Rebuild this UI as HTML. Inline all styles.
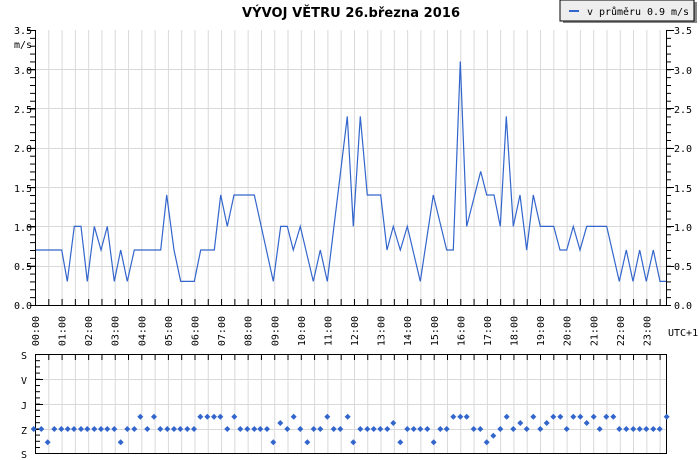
<!DOCTYPE html>
<html><head><meta charset="utf-8"><style>
body{margin:0;background:#fff;width:700px;height:460px;overflow:hidden}
svg{display:block}
text{font-family:"DejaVu Sans Mono","Liberation Mono",monospace;font-size:10px;fill:#000}
</style></head><body>
<svg width="700" height="460" viewBox="0 0 700 460" xmlns="http://www.w3.org/2000/svg">
<defs>
<pattern id="vg" x="35" y="0" width="13.29" height="10" patternUnits="userSpaceOnUse"><line x1="0.5" y1="0" x2="0.5" y2="10" stroke="#d9d9d9" stroke-width="1"/></pattern>
<pattern id="tk" x="35" y="0" width="13.29" height="10" patternUnits="userSpaceOnUse"><line x1="0.5" y1="0" x2="0.5" y2="10" stroke="#000" stroke-width="1"/></pattern>
<pattern id="ytk" x="0" y="30" width="10" height="7.857" patternUnits="userSpaceOnUse"><line x1="0" y1="0.5" x2="10" y2="0.5" stroke="#000"/></pattern>
<pattern id="ytk2" x="0" y="354" width="10" height="6.2" patternUnits="userSpaceOnUse"><line x1="0" y1="0.5" x2="10" y2="0.5" stroke="#000"/></pattern>
</defs>
<text x="242" y="17" textLength="218" style="font-family:'DejaVu Sans','Liberation Sans',sans-serif;font-weight:bold;font-size:13px">VÝVOJ VĚTRU  26.března 2016</text>
<rect x="563" y="2" width="134" height="21" fill="#888"/>
<rect x="560" y="0" width="134" height="21" fill="#eee" stroke="#000"/>
<line x1="569" y1="11" x2="579" y2="11" stroke="#3366cc" stroke-width="2"/>
<text x="587" y="15" textLength="102">v průměru 0.9 m/s</text>

<rect x="35" y="30" width="631" height="275" fill="url(#vg)"/>
<g stroke="#d9d9d9">
<line x1="35" x2="666" y1="69.5" y2="69.5"/><line x1="35" x2="666" y1="108.5" y2="108.5"/>
<line x1="35" x2="666" y1="148.5" y2="148.5"/><line x1="35" x2="666" y1="187.5" y2="187.5"/>
<line x1="35" x2="666" y1="226.5" y2="226.5"/><line x1="35" x2="666" y1="266.5" y2="266.5"/>
</g>
<rect x="30" y="30" width="5" height="276" fill="url(#ytk)"/>
<rect x="666" y="30" width="5" height="276" fill="url(#ytk)"/>
<g stroke="#000">
<line x1="27" x2="35" y1="30.5" y2="30.5"/><line x1="27" x2="35" y1="69.5" y2="69.5"/><line x1="27" x2="35" y1="108.5" y2="108.5"/><line x1="27" x2="35" y1="148.5" y2="148.5"/><line x1="27" x2="35" y1="187.5" y2="187.5"/><line x1="27" x2="35" y1="226.5" y2="226.5"/><line x1="27" x2="35" y1="266.5" y2="266.5"/>
<line x1="666" x2="674" y1="30.5" y2="30.5"/><line x1="666" x2="674" y1="69.5" y2="69.5"/><line x1="666" x2="674" y1="108.5" y2="108.5"/><line x1="666" x2="674" y1="148.5" y2="148.5"/><line x1="666" x2="674" y1="187.5" y2="187.5"/><line x1="666" x2="674" y1="226.5" y2="226.5"/><line x1="666" x2="674" y1="266.5" y2="266.5"/>
</g>
<rect x="35" y="299" width="631" height="6" fill="url(#tk)"/>
<path d="M35.5 30 V305.5 H666.5 V30" fill="none" stroke="#000"/>
<g text-anchor="end">
<text x="32" y="34">3.5</text><text x="32" y="48">m/s</text><text x="32" y="74">3.0</text><text x="32" y="113">2.5</text><text x="32" y="152">2.0</text><text x="32" y="192">1.5</text><text x="32" y="231">1.0</text><text x="32" y="270">0.5</text><text x="32" y="309">0.0</text>
</g>
<g>
<text x="674" y="34">3.5</text><text x="674" y="74">3.0</text><text x="674" y="113">2.5</text><text x="674" y="152">2.0</text><text x="674" y="192">1.5</text><text x="674" y="231">1.0</text><text x="674" y="270">0.5</text><text x="674" y="309">0.0</text>
<text x="668" y="336">UTC+1</text>
</g>
<g text-anchor="end">
<text transform="translate(39,316) rotate(-90)">00:00</text>
<text transform="translate(65.6,316) rotate(-90)">01:00</text>
<text transform="translate(92.2,316) rotate(-90)">02:00</text>
<text transform="translate(118.7,316) rotate(-90)">03:00</text>
<text transform="translate(145.3,316) rotate(-90)">04:00</text>
<text transform="translate(171.9,316) rotate(-90)">05:00</text>
<text transform="translate(198.5,316) rotate(-90)">06:00</text>
<text transform="translate(225.1,316) rotate(-90)">07:00</text>
<text transform="translate(251.7,316) rotate(-90)">08:00</text>
<text transform="translate(278.3,316) rotate(-90)">09:00</text>
<text transform="translate(304.8,316) rotate(-90)">10:00</text>
<text transform="translate(331.4,316) rotate(-90)">11:00</text>
<text transform="translate(358,316) rotate(-90)">12:00</text>
<text transform="translate(384.6,316) rotate(-90)">13:00</text>
<text transform="translate(411.2,316) rotate(-90)">14:00</text>
<text transform="translate(437.8,316) rotate(-90)">15:00</text>
<text transform="translate(464.4,316) rotate(-90)">16:00</text>
<text transform="translate(491,316) rotate(-90)">17:00</text>
<text transform="translate(517.5,316) rotate(-90)">18:00</text>
<text transform="translate(544.1,316) rotate(-90)">19:00</text>
<text transform="translate(570.7,316) rotate(-90)">20:00</text>
<text transform="translate(597.3,316) rotate(-90)">21:00</text>
<text transform="translate(623.9,316) rotate(-90)">22:00</text>
<text transform="translate(650.5,316) rotate(-90)">23:00</text>
</g>
<polyline fill="none" stroke="#3366cc" stroke-width="1.2" points="
36,250 61.7,250 67.3,281.4 74.3,226.4 81,226.4 87.3,281.4 94.3,226.4 101,250 107.3,226.4 114.3,281.4 120.7,250 127.3,281.4 134.3,250 160.7,250 166.7,195 174,250 180.7,281.4 194.3,281.4 200.7,250 214.3,250 220.7,195 227.3,226.4 234,195 254.3,195 273.3,281.4 280.7,226.4 287.3,226.4 293.3,250 300.3,226.4 313.3,281.4 320.3,250 327.3,281.4 347.3,116.4 353.3,226.4 360.3,116.4 367.3,195 380.7,195 387,250 393.3,226.4 400.3,250 407.3,226.4 420.3,281.4 433.3,195 446.7,250 453.3,250 460.3,61.4 466.7,226.4 480.7,171.4 486.7,195 494,195 500.3,226.4 506.3,116.4 513.3,226.4 520,195 526.7,250 533.3,195 540.3,226.4 553.7,226.4 560,250 566.7,250 573.3,226.4 580,250 586.7,226.4 606.7,226.4 619.3,281.4 626.3,250 633,281.4 639.7,250 646.3,281.4 653.3,250 660,281.4 666,281.4"/>

<rect x="35" y="354" width="631" height="99" fill="url(#vg)"/>
<g stroke="#d9d9d9">
<line x1="35" x2="666" y1="379.5" y2="379.5"/><line x1="35" x2="666" y1="404.5" y2="404.5"/><line x1="35" x2="666" y1="429.5" y2="429.5"/>
</g>
<rect x="35" y="354" width="631" height="6" fill="url(#tk)"/>
<rect x="35" y="354" width="5" height="99" fill="url(#ytk2)"/>
<g stroke="#000"><line x1="35" x2="43" y1="379.5" y2="379.5"/><line x1="35" x2="43" y1="404.5" y2="404.5"/><line x1="35" x2="43" y1="429.5" y2="429.5"/></g>
<rect x="35.5" y="354.5" width="631" height="99" fill="none" stroke="#000"/>
<g text-anchor="end">
<text x="27" y="359">S</text><text x="27" y="384">V</text><text x="27" y="409">J</text><text x="27" y="434">Z</text><text x="27" y="458">S</text>
</g>
<g fill="#3366cc">
<path d="
M33.7,426l3,3l-3,3l-3,-3z M41.3,426l3,3l-3,3l-3,-3z M47.7,439.3l3,3l-3,3l-3,-3z M54.3,426l3,3l-3,3l-3,-3z M61.3,426l3,3l-3,3l-3,-3z M67.7,426l3,3l-3,3l-3,-3z M74,426l3,3l-3,3l-3,-3z M81,426l3,3l-3,3l-3,-3z M87.3,426l3,3l-3,3l-3,-3z M94.3,426l3,3l-3,3l-3,-3z M101,426l3,3l-3,3l-3,-3z M107.3,426l3,3l-3,3l-3,-3z M114.3,426l3,3l-3,3l-3,-3z M120.7,439.3l3,3l-3,3l-3,-3z M127.3,426l3,3l-3,3l-3,-3z M134.3,426l3,3l-3,3l-3,-3z M140.3,413.7l3,3l-3,3l-3,-3z M147.3,426l3,3l-3,3l-3,-3z M154,413.7l3,3l-3,3l-3,-3z M160.3,426l3,3l-3,3l-3,-3z M167.3,426l3,3l-3,3l-3,-3z M174,426l3,3l-3,3l-3,-3z M180.3,426l3,3l-3,3l-3,-3z M187.3,426l3,3l-3,3l-3,-3z M194,426l3,3l-3,3l-3,-3z M200.3,413.7l3,3l-3,3l-3,-3z M207.3,413.7l3,3l-3,3l-3,-3z M214,413.7l3,3l-3,3l-3,-3z M220.3,413.7l3,3l-3,3l-3,-3z M227.3,426l3,3l-3,3l-3,-3z M234.3,413.7l3,3l-3,3l-3,-3z M240.3,426l3,3l-3,3l-3,-3z M247.3,426l3,3l-3,3l-3,-3z M254.3,426l3,3l-3,3l-3,-3z M260.3,426l3,3l-3,3l-3,-3z M267,426l3,3l-3,3l-3,-3z M273.3,439.3l3,3l-3,3l-3,-3z M280.3,420l3,3l-3,3l-3,-3z M287.3,426l3,3l-3,3l-3,-3z M293.7,413.7l3,3l-3,3l-3,-3z M300.3,426l3,3l-3,3l-3,-3z M307.3,439.3l3,3l-3,3l-3,-3z M313.7,426l3,3l-3,3l-3,-3z M320.3,426l3,3l-3,3l-3,-3z M327.3,413.7l3,3l-3,3l-3,-3z M333.7,426l3,3l-3,3l-3,-3z M340.3,426l3,3l-3,3l-3,-3z M347.7,413.7l3,3l-3,3l-3,-3z
M353.3,439.3l3,3l-3,3l-3,-3z M360.3,426l3,3l-3,3l-3,-3z M367.3,426l3,3l-3,3l-3,-3z M373.7,426l3,3l-3,3l-3,-3z M380.3,426l3,3l-3,3l-3,-3z M387.3,426l3,3l-3,3l-3,-3z M393.3,420l3,3l-3,3l-3,-3z M400.3,439.3l3,3l-3,3l-3,-3z M407.3,426l3,3l-3,3l-3,-3z M413.7,426l3,3l-3,3l-3,-3z M420.3,426l3,3l-3,3l-3,-3z M427.3,426l3,3l-3,3l-3,-3z M433.7,439.3l3,3l-3,3l-3,-3z M440.3,426l3,3l-3,3l-3,-3z M446.7,426l3,3l-3,3l-3,-3z M453.3,413.7l3,3l-3,3l-3,-3z M460.3,413.7l3,3l-3,3l-3,-3z M466.7,413.7l3,3l-3,3l-3,-3z M473.7,426l3,3l-3,3l-3,-3z M480.3,426l3,3l-3,3l-3,-3z M486.7,439.3l3,3l-3,3l-3,-3z M493.3,432.7l3,3l-3,3l-3,-3z M500.3,426l3,3l-3,3l-3,-3z M506.7,413.7l3,3l-3,3l-3,-3z M513.3,426l3,3l-3,3l-3,-3z M520.3,420l3,3l-3,3l-3,-3z M526.7,426l3,3l-3,3l-3,-3z M533.3,413.7l3,3l-3,3l-3,-3z M540.3,426l3,3l-3,3l-3,-3z M546.7,420l3,3l-3,3l-3,-3z M553.3,413.7l3,3l-3,3l-3,-3z M560.3,413.7l3,3l-3,3l-3,-3z M566.7,426l3,3l-3,3l-3,-3z M573.3,413.7l3,3l-3,3l-3,-3z M580.3,413.7l3,3l-3,3l-3,-3z M586.7,420l3,3l-3,3l-3,-3z M593.7,413.7l3,3l-3,3l-3,-3z M599.7,426l3,3l-3,3l-3,-3z M606.3,413.7l3,3l-3,3l-3,-3z M613.3,413.7l3,3l-3,3l-3,-3z M619.3,426l3,3l-3,3l-3,-3z M626.3,426l3,3l-3,3l-3,-3z M633.3,426l3,3l-3,3l-3,-3z M639.7,426l3,3l-3,3l-3,-3z M646.3,426l3,3l-3,3l-3,-3z M653.3,426l3,3l-3,3l-3,-3z M659.7,426l3,3l-3,3l-3,-3z M666.7,413.7l3,3l-3,3l-3,-3z"/>
</g>
</svg>
</body></html>
